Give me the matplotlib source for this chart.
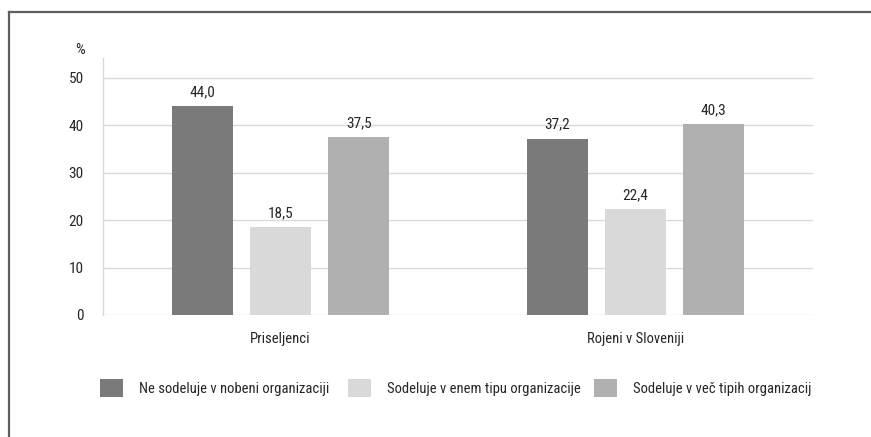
import numpy as np
import matplotlib.pyplot as plt
from matplotlib import font_manager
from matplotlib.lines import Line2D

# pick a condensed face if one is installed, otherwise Roboto
names = {f.name for f in font_manager.fontManager.ttflist}
if 'Roboto Condensed' in names:
    family, fs = 'Roboto Condensed', 10.5
elif 'Liberation Sans Narrow' in names:
    family, fs = 'Liberation Sans Narrow', 10.5
else:
    family, fs = 'Roboto', 9.5
plt.rcParams['font.family'] = [family, 'DejaVu Sans']

# data
categories = ['Priseljenci', 'Rojeni v Sloveniji']
series = ['Ne sodeluje v nobeni organizaciji',
          'Sodeluje v enem tipu organizacije',
          'Sodeluje v več tipih organizacij']
values = [
    [44.0, 37.2],
    [18.5, 22.4],
    [37.5, 40.3],
]
colors = ['#7a7a7a', '#d9d9d9', '#b0b0b0']
yticks = [0, 10, 20, 30, 40, 50]
txt = '#262626'

W, H = 871, 437
fig = plt.figure(figsize=(W / 100, H / 100), dpi=100)
ax = fig.add_axes([103 / W, 1 - 315 / H, 710 / W, (315 - 58) / H])

x = np.arange(len(categories))
width = 0.172
step = 0.2206
handles = []
for i, (name, vals, c) in enumerate(zip(series, values, colors)):
    pos = x + (i - 1) * step
    bars = ax.bar(pos, vals, width, color=c, label=name, zorder=3)
    handles.append(bars)
    for b, v in zip(bars, vals):
        ax.annotate(f'{v:.1f}'.replace('.', ','), (b.get_x() + b.get_width() / 2, v),
                    xytext=(0, 5), textcoords='offset points',
                    ha='center', va='bottom', fontsize=fs + 0.5, color=txt)

ax.set_xlim(-0.5, 1.5)
ax.set_ylim(0, 54.2)
ax.set_yticks(yticks)
ax.set_yticklabels([str(t) for t in yticks], fontsize=fs + 0.5, color=txt)
ax.set_xticks(x)
ax.set_xticklabels(categories, fontsize=fs, color=txt)
ax.tick_params(axis='y', length=0, pad=14)
ax.tick_params(axis='x', length=0, pad=12)
ax.grid(axis='y', color='#d9d9d9', linewidth=1, zorder=0)
for s in ['top', 'right', 'bottom']:
    ax.spines[s].set_visible(False)
ax.spines['left'].set_color('#d9d9d9')
ax.spines['left'].set_linewidth(1)

fig.text(80 / W, 1 - 50 / H, '%', ha='center', va='center', fontsize=fs + 0.5, color=txt)

# legend: one entry per box, placed like the original
legend_x = [100, 348, 594]
for h, name, lx in zip(handles, series, legend_x):
    fig.legend([h], [name], loc='center left', bbox_to_anchor=(lx / W, 1 - 388 / H),
               frameon=False, fontsize=fs, handlelength=1.55, handleheight=1.55,
               handletextpad=1.1, borderpad=0, borderaxespad=0, labelcolor=txt)

# outer frame (top and left edge)
fig.add_artist(Line2D([8.5 / W, 1], [1 - 11.5 / H, 1 - 11.5 / H], color='#5f5f5f', linewidth=1.6))
fig.add_artist(Line2D([8.5 / W, 8.5 / W], [0, 1 - 11.5 / H], color='#5f5f5f', linewidth=1.6))

fig.savefig('out.png', dpi=100)
